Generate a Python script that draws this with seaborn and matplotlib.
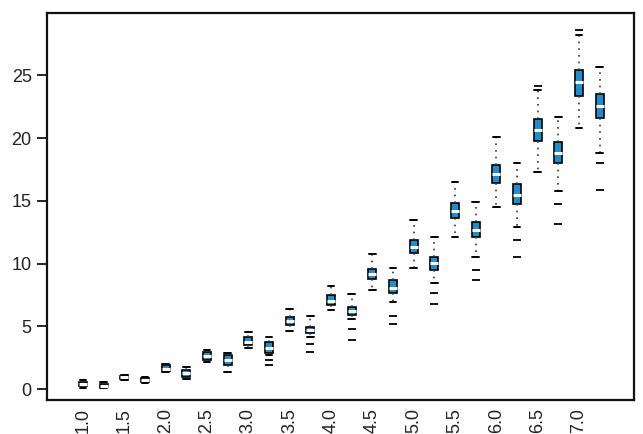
import warnings
import numpy as np
import pandas as pd
import matplotlib
matplotlib.use("Agg")
import matplotlib.pyplot as plt
import seaborn as sns

warnings.filterwarnings("ignore")

# ==================== data ====================
positions = [1.0, 1.25, 1.5, 1.75, 2.0, 2.25, 2.5, 2.75, 3.0, 3.25, 3.5, 3.75, 4.0,
             4.25, 4.5, 4.75, 5.0, 5.25, 5.5, 5.75, 6.0, 6.25, 6.5, 6.75, 7.0, 7.25]
whisk_lo = [0.10, 0.08, 0.75, 0.50, 1.35, 0.80, 2.20, 1.35, 3.30, 2.73, 4.65, 4.14, 6.30,
            5.60, 7.90, 6.97, 9.65, 8.43, 12.09, 10.55, 14.53, 12.94, 17.31, 15.80, 20.76, 18.77]
q1 = [0.26, 0.20, 0.82, 0.60, 1.45, 1.00, 2.35, 1.95, 3.50, 2.86, 5.12, 4.45, 6.70,
      5.90, 8.78, 7.64, 10.85, 9.49, 13.60, 12.09, 16.39, 14.74, 19.78, 17.98, 23.33, 21.56]
median = [0.42, 0.30, 0.95, 0.73, 1.65, 1.27, 2.65, 2.30, 3.75, 3.26, 5.46, 4.75, 7.05,
          6.20, 9.15, 8.10, 11.35, 10.02, 14.21, 12.67, 17.13, 15.46, 20.63, 18.77, 24.47, 22.54]
q3 = [0.58, 0.40, 1.05, 0.88, 1.90, 1.55, 2.95, 2.70, 4.20, 3.78, 5.78, 4.98, 7.50,
      6.55, 9.57, 8.70, 11.90, 10.55, 14.80, 13.33, 17.84, 16.33, 21.50, 19.70, 25.40, 23.49]
whisk_hi = [0.75, 0.60, 1.12, 0.98, 2.00, 1.80, 3.10, 2.90, 4.55, 4.15, 6.40, 5.85, 8.20,
            7.58, 10.76, 9.65, 13.47, 12.09, 16.50, 14.92, 20.05, 18.03, 23.85, 21.69, 28.20, 25.66]
outliers = [[], [], [], [], [], [], [], [], [], [2.33, 1.93], [], [3.6, 3.0], [],
            [4.8, 3.9], [], [5.8, 5.2], [], [7.64, 6.79], [], [9.49, 8.70], [], [11.88, 10.55],
            [24.15], [14.74, 13.13], [28.6], [17.98, 15.86]]

x_ticks = [1.0, 1.5, 2.0, 2.5, 3.0, 3.5, 4.0, 4.5, 5.0, 5.5, 6.0, 6.5, 7.0]
x_tick_labels = ["1.0", "1.5", "2.0", "2.5", "3.0", "3.5", "4.0", "4.5", "5.0", "5.5", "6.0", "6.5", "7.0"]
y_ticks = [0, 5, 10, 15, 20, 25]

# box table: five numbers per box, so quartiles and whisker ends come out as read
rows = []
for i, p in enumerate(positions):
    for v in (whisk_lo[i], q1[i], median[i], q3[i], whisk_hi[i]):
        rows.append({"pos": p, "value": v})
box_df = pd.DataFrame(rows)

out_rows = [{"pos": p, "value": v} for p, vals in zip(positions, outliers) for v in vals]
out_df = pd.DataFrame(out_rows)

# ==================== style ====================
sns.set_theme(style="ticks")
plt.rcParams["font.family"] = ["Liberation Sans", "DejaVu Sans"]
plt.rcParams["axes.linewidth"] = 1.6
plt.rcParams["axes.edgecolor"] = "#111111"

fig = plt.figure(figsize=(6.43, 4.34), dpi=100)
ax = fig.add_axes([47 / 643, 34 / 434, 587 / 643, 387 / 434])

sns.boxplot(data=box_df, x="pos", y="value", native_scale=True, whis=(0, 100),
            width=0.38, color="#1b8fcf", saturation=1, linecolor="black",
            linewidth=1.2, showfliers=False, capwidths=0.08,
            medianprops={"color": "white", "linewidth": 2.2},
            whiskerprops={"linestyle": (0, (1, 3)), "linewidth": 1.2, "color": "#333333"},
            capprops={"color": "black", "linewidth": 1.4},
            ax=ax)

sns.scatterplot(data=out_df, x="pos", y="value", marker="_", color="black",
                s=36, linewidth=1.3, ax=ax, zorder=3)

ax.set_xlim(0.565, 7.665)
ax.set_ylim(-0.85, 29.95)
ax.set_yticks(y_ticks)
ax.set_xticks(x_ticks, x_tick_labels)
ax.set_xlabel("")
ax.set_ylabel("")
ax.tick_params(axis="x", length=0, pad=6, labelsize=13, labelcolor="#222222", labelrotation=90)
ax.tick_params(axis="y", length=7, width=1.4, pad=4, labelsize=13, labelcolor="#222222")
ax.grid(False)

fig.savefig("out.png", dpi=100)
